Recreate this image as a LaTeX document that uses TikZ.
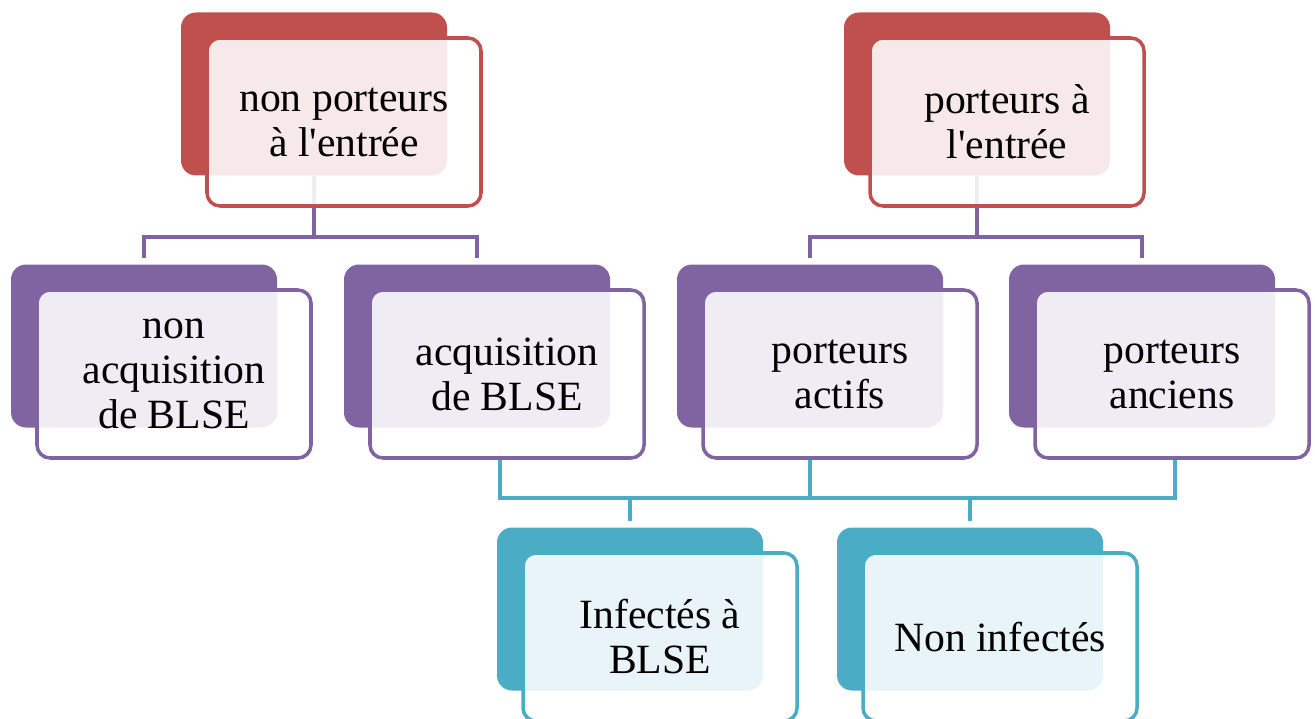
\documentclass[tikz,border=0pt]{standalone}
\usepackage{fontspec}
\setmainfont{Liberation Serif}
\usetikzlibrary{backgrounds}
\definecolor{rouge}{HTML}{C0504D}
\definecolor{violet}{HTML}{8064A2}
\definecolor{bleu}{HTML}{4BACC6}
\begin{document}
\begin{tikzpicture}[
	back/.style={rectangle,rounded corners=0.3cm,fill=#1,minimum width=5.32cm,minimum height=3.26cm},
	front/.style={rectangle,rounded corners=0.26cm,draw=#1,line width=2pt,fill=white,fill opacity=0.88,text opacity=1,
		minimum width=5.48cm,minimum height=3.36cm,align=center,font=\fontsize{23.7}{25.6}\selectfont},
	link/.style={draw=#1,line width=2.2pt}]
	\useasboundingbox (0,0) rectangle (26.3,-14.38);
	\node[back=rouge] (b1) at (6.28,-1.88) {};
	\node[front=rouge] (f1) at (6.88,-2.44) {non porteurs\\à l\textquotesingle entrée};
	\node[back=rouge] (b2) at (19.54,-1.88) {};
	\node[front=rouge] (f2) at (20.14,-2.44) {porteurs à\\l\textquotesingle entrée};
	\node[back=violet] (bm1) at (2.88,-6.92) {};
	\node[front=violet] (fm1) at (3.48,-7.48) {non\\acquisition\\de BLSE};
	\node[back=violet] (bm2) at (9.54,-6.92) {};
	\node[front=violet] (fm2) at (10.14,-7.48) {acquisition\\de BLSE};
	\node[back=violet] (bm3) at (16.20,-6.92) {};
	\node[front=violet] (fm3) at (16.80,-7.48) {porteurs\\actifs};
	\node[back=violet] (bm4) at (22.84,-6.92) {};
	\node[front=violet] (fm4) at (23.44,-7.48) {porteurs\\anciens};
	\node[back=bleu] (bt1) at (12.60,-12.18) {};
	\node[front=bleu] (ft1) at (13.20,-12.74) {Infectés à\\BLSE};
	\node[back=bleu] (bt2) at (19.40,-12.18) {};
	\node[front=bleu] (ft2) at (20.00,-12.74) {Non infectés};
	\coordinate (j1) at (6.28,-4.74);
	\coordinate (j2) at (19.54,-4.74);
	\coordinate (j3) at (16.20,-9.96);
	\begin{scope}[on background layer]
		\draw[link=violet] (b1.south)--(j1);
		\draw[link=violet,shorten >=0.12cm] (j1)-|(bm1.north);
		\draw[link=violet,shorten >=0.12cm] (j1)-|(bm2.north);
		\draw[link=violet] (b2.south)--(j2);
		\draw[link=violet,shorten >=0.12cm] (j2)-|(bm3.north);
		\draw[link=violet,shorten >=0.12cm] (j2)-|(bm4.north);
		\draw[link=bleu] ([xshift=-0.14cm]fm2.south)|-(j3);
		\draw[link=bleu] (bm3.south|-fm3.south)--(j3);
		\draw[link=bleu] ([xshift=0.06cm]fm4.south)|-(j3);
		\draw[link=bleu,shorten >=0.12cm] (j3)-|(bt1.north);
		\draw[link=bleu,shorten >=0.12cm] (j3)-|(bt2.north);
	\end{scope}
\end{tikzpicture}
\end{document}
